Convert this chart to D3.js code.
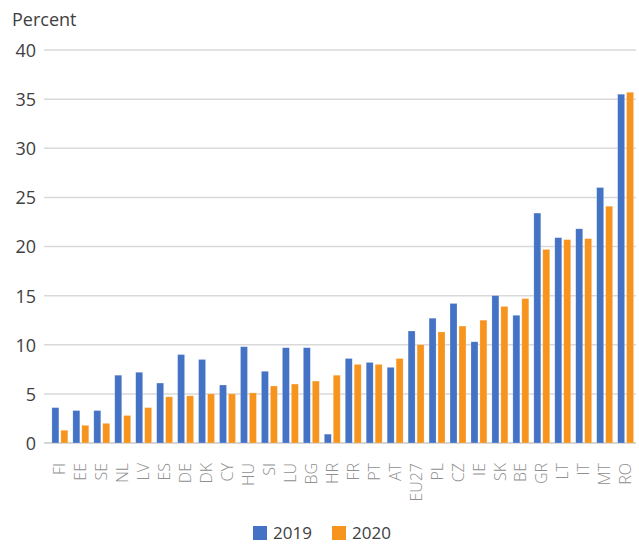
<!DOCTYPE html>
<html>
<head>
<meta charset="utf-8">
<script src="https://cdn.jsdelivr.net/npm/d3@7"></script>
<style>
  html, body { margin: 0; padding: 0; background: #fff; }
  svg { display: block; font-family: "Open Sans", "Noto Sans", sans-serif; }
</style>
</head>
<body>
<svg id="chart" width="639" height="544"></svg>
<script>
const categories = ["FI","EE","SE","NL","LV","ES","DE","DK","CY","HU","SI","LU","BG","HR","FR","PT","AT","EU27","PL","CZ","IE","SK","BE","GR","LT","IT","MT","RO"];
const series = ["2019", "2020"];
const values2019 = [3.6,3.3,3.3,6.9,7.2,6.1,9.0,8.5,5.9,9.8,7.3,9.7,9.7,0.9,8.6,8.2,7.7,11.4,12.7,14.2,10.3,15.0,13.0,23.4,20.9,21.8,26.0,35.5];
const values2020 = [1.3,1.8,2.0,2.8,3.6,4.7,4.8,5.0,5.0,5.1,5.8,6.0,6.3,6.9,8.0,8.0,8.6,10.0,11.3,11.9,12.5,13.9,14.7,19.7,20.7,20.8,24.1,35.7];
const yTicks = [0,5,10,15,20,25,30,35,40];
const colors = ["#4472c4", "#f7941d"];
const fontFam = "'Open Sans', 'Noto Sans', sans-serif";

const svg = d3.select("#chart");

const x = d3.scaleBand().domain(categories).range([49.4, 636.1]).padding(0);
const xi = d3.scaleBand().domain(series).range([0, x.bandwidth()]).paddingInner(0.222).paddingOuter(0.28);
const y = d3.scaleLinear().domain([0, 40]).range([443, 50]);

// gridlines
svg.append("g")
  .selectAll("line")
  .data(yTicks)
  .join("line")
  .attr("x1", 44).attr("x2", 636)
  .attr("y1", d => y(d)).attr("y2", d => y(d))
  .attr("stroke", d => d === 0 ? "#c8c8c8" : "#d9d9d9")
  .attr("stroke-width", 1.5);

// y axis labels
const yAxis = svg.append("g")
  .attr("transform", "translate(36,0)")
  .call(d3.axisLeft(y).tickValues(yTicks).tickSize(0).tickPadding(0));
yAxis.select(".domain").remove();
yAxis.selectAll("text")
  .attr("font-size", 18)
  .attr("fill", "#404040")
  .attr("font-family", fontFam)
  .attr("dy", "0.36em");

svg.append("text")
  .attr("x", 12).attr("y", 26)
  .attr("font-size", 18)
  .attr("font-family", fontFam)
  .attr("fill", "#404040")
  .text("Percent");

// bars
const rows = categories.map((c, i) => ({ cat: c, vals: [values2019[i], values2020[i]] }));
const groups = svg.append("g").selectAll("g")
  .data(rows)
  .join("g")
  .attr("transform", d => `translate(${x(d.cat)},0)`);

groups.selectAll("rect")
  .data(d => d.vals.map((v, j) => ({ s: series[j], v, j })))
  .join("rect")
  .attr("x", d => xi(d.s))
  .attr("width", xi.bandwidth())
  .attr("y", d => y(d.v))
  .attr("height", d => y(0) - y(d.v))
  .attr("fill", d => colors[d.j])
  .attr("stroke", "#ffffff")
  .attr("stroke-opacity", 0.35)
  .attr("stroke-width", 0.6);

// x axis labels
const xAxis = svg.append("g")
  .attr("transform", `translate(0,${y(0) + 20})`)
  .call(d3.axisBottom(x).tickSize(0).tickPadding(0));
xAxis.select(".domain").remove();
xAxis.selectAll("text")
  .attr("font-size", 16)
  .attr("font-weight", 300)
  .attr("fill", "#8f8f8f")
  .attr("font-family", fontFam)
  .attr("text-anchor", "end")
  .attr("transform", "rotate(-90)")
  .attr("x", 0)
  .attr("y", 0)
  .attr("dy", "0.35em");

// legend
const legend = svg.append("g");
const legX = [253, 332];
series.forEach((s, j) => {
  legend.append("rect")
    .attr("x", legX[j]).attr("y", 526)
    .attr("width", 14).attr("height", 14)
    .attr("fill", colors[j]);
  legend.append("text")
    .attr("x", legX[j] + 20).attr("y", 539)
    .attr("font-size", 17)
    .attr("font-family", fontFam)
    .attr("fill", "#404040")
    .text(s);
});
</script>
</body>
</html>
